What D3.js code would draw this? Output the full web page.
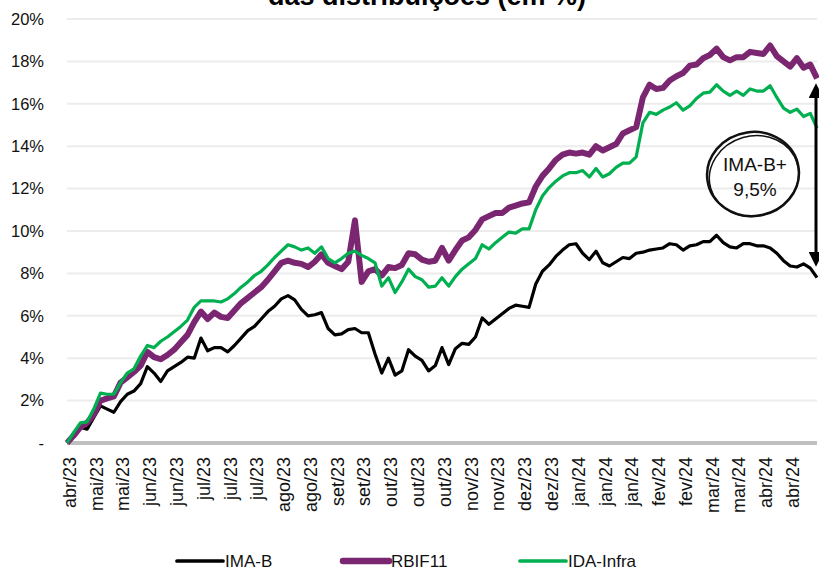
<!DOCTYPE html>
<html>
<head>
<meta charset="utf-8">
<script src="https://cdn.jsdelivr.net/npm/d3@7"></script>
<style>
  body { margin: 0; background: #fff; }
  svg { display: block; }
</style>
</head>
<body>
<div id="chart"></div>
<script>
// tick labels on the x axis (one every 4 data points)
var tickLabels = ["abr/23","mai/23","mai/23","jun/23","jun/23","jul/23","jul/23","jul/23",
  "ago/23","ago/23","set/23","set/23","out/23","out/23","out/23","nov/23","nov/23",
  "dez/23","dez/23","jan/24","jan/24","jan/24","fev/24","fev/24","mar/24","mar/24",
  "abr/24","abr/24"];

var yTicks = [0, 2, 4, 6, 8, 10, 12, 14, 16, 18, 20];

// accumulated return, %
var imab = [0,0.3,0.75,0.65,1.2,1.75,1.6,1.45,1.95,2.3,2.45,2.8,3.6,3.3,2.9,3.4,3.6,3.8,4.05,4.0,
  4.95,4.35,4.5,4.5,4.3,4.6,4.95,5.3,5.5,5.85,6.2,6.45,6.8,6.95,6.75,6.3,6.0,6.05,6.15,5.4,
  5.1,5.15,5.35,5.4,5.2,5.2,4.2,3.3,4.0,3.2,3.4,4.4,4.1,3.9,3.4,3.65,4.5,3.7,4.45,4.7,
  4.65,5.0,5.9,5.6,5.85,6.1,6.35,6.5,6.45,6.4,7.5,8.1,8.4,8.8,9.1,9.35,9.4,8.95,8.65,9.05,
  8.5,8.35,8.55,8.75,8.7,8.95,9.0,9.1,9.15,9.2,9.4,9.35,9.1,9.3,9.35,9.5,9.5,9.8,9.45,9.25,
  9.2,9.4,9.4,9.3,9.3,9.2,8.95,8.6,8.35,8.3,8.45,8.25,7.8];

var rbif11 = [0,0.35,0.75,0.95,1.35,2.0,2.1,2.2,2.85,3.1,3.35,3.65,4.3,4.05,3.95,4.15,4.4,4.75,5.1,5.7,
  6.2,5.85,6.15,5.95,5.9,6.25,6.6,6.85,7.1,7.35,7.7,8.1,8.5,8.6,8.5,8.45,8.3,8.55,8.9,8.5,
  8.35,8.2,8.55,10.5,7.6,8.1,8.2,7.9,8.3,8.25,8.4,8.95,8.9,8.65,8.55,8.6,9.2,8.6,9.1,9.55,
  9.7,10.05,10.55,10.7,10.85,10.85,11.1,11.2,11.3,11.35,12.1,12.6,12.95,13.35,13.6,13.7,13.65,13.7,13.6,14.0,
  13.8,13.95,14.1,14.6,14.75,14.9,16.3,16.9,16.7,16.75,17.1,17.3,17.45,17.8,17.85,18.15,18.3,18.6,18.2,18.05,
  18.2,18.2,18.45,18.4,18.35,18.75,18.25,18.0,17.75,18.15,17.7,17.85,17.2];

var idaInfra = [0,0.5,0.95,1.0,1.6,2.35,2.3,2.3,2.85,3.3,3.5,4.1,4.6,4.5,4.8,5.0,5.25,5.5,5.8,6.4,
  6.7,6.7,6.7,6.65,6.8,7.05,7.35,7.6,7.9,8.1,8.4,8.75,9.05,9.35,9.25,9.1,9.2,8.95,9.25,8.7,
  8.5,8.7,8.95,9.05,8.85,8.7,8.5,7.4,7.8,7.1,7.6,8.2,7.85,7.7,7.35,7.4,7.8,7.4,7.85,8.2,
  8.45,8.7,9.35,9.15,9.45,9.7,9.95,9.9,10.1,10.1,11.0,11.65,12.05,12.35,12.6,12.75,12.75,12.85,12.55,12.95,
  12.55,12.7,13.0,13.2,13.2,13.5,15.1,15.6,15.5,15.7,15.85,16.05,15.7,15.9,16.25,16.5,16.55,16.9,16.6,16.4,
  16.6,16.4,16.7,16.6,16.6,16.85,16.3,15.8,15.6,15.75,15.4,15.55,14.85];

var series = [
  {name: "IMA-B", values: imab, color: "#000000", width: 3.2},
  {name: "RBIF11", values: rbif11, color: "#7b2671", width: 6},
  {name: "IDA-Infra", values: idaInfra, color: "#00b050", width: 3.2}
];

var width = 819, height = 570;
var margin = {left: 67, right: 817, top: 19, bottom: 443};

var svg = d3.select("#chart").append("svg")
  .attr("width", width)
  .attr("height", height);

var x = d3.scaleLinear().domain([0, imab.length - 1]).range([margin.left, margin.right]);
var y = d3.scaleLinear().domain([0, 20]).range([margin.bottom, margin.top]);

// title, mostly cut off at the top
svg.append("text")
  .attr("x", 427)
  .attr("y", 5)
  .attr("text-anchor", "middle")
  .style("font-family", "Liberation Sans, Arial, sans-serif")
  .style("font-weight", "bold")
  .style("font-size", "27px")
  .text("das distribuições (em %)");

// grid lines
svg.append("g")
  .selectAll("line")
  .data(yTicks.filter(function(d) { return d > 0; }))
  .enter()
  .append("line")
    .attr("x1", margin.left)
    .attr("x2", margin.right)
    .attr("y1", function(d) { return y(d); })
    .attr("y2", function(d) { return y(d); })
    .attr("stroke", "#ececec")
    .attr("stroke-width", 2);

// y axis labels
var yAxis = svg.append("g")
  .attr("transform", "translate(44,0)")
  .call(d3.axisLeft(y).tickValues(yTicks).tickSize(0).tickPadding(0)
    .tickFormat(function(d) { return d === 0 ? "-" : d + "%"; }));
yAxis.select(".domain").remove();
yAxis.selectAll("text")
  .style("font-family", "Liberation Sans, Arial, sans-serif")
  .style("font-size", "16.5px")
  .attr("fill", "#111");

// zero line
svg.append("line")
  .attr("x1", margin.left)
  .attr("x2", margin.right)
  .attr("y1", y(0))
  .attr("y2", y(0))
  .attr("stroke", "#bfbfbf")
  .attr("stroke-width", 4);

// x axis labels
var tickIdx = tickLabels.map(function(d, i) { return i * 4; });
var xAxis = svg.append("g")
  .attr("transform", "translate(2," + (y(0) + 14) + ")")
  .call(d3.axisBottom(x).tickValues(tickIdx).tickSize(0).tickPadding(0)
    .tickFormat(function(d, i) { return tickLabels[i]; }));
xAxis.select(".domain").remove();
xAxis.selectAll("text")
  .attr("transform", "rotate(-90)")
  .attr("text-anchor", "end")
  .attr("dx", 0)
  .attr("dy", "0.35em")
  .attr("y", 0)
  .style("font-family", "Liberation Sans, Arial, sans-serif")
  .style("font-size", "18px")
  .attr("fill", "#111");

// lines
var line = d3.line()
  .x(function(d, i) { return x(i); })
  .y(function(d) { return y(d); });

svg.append("g")
  .selectAll("path")
  .data(series)
  .enter()
  .append("path")
    .attr("d", function(d) { return line(d.values); })
    .attr("fill", "none")
    .attr("stroke", function(d) { return d.color; })
    .attr("stroke-width", function(d) { return d.width; })
    .attr("stroke-linejoin", "round");

// double arrow for the gap
var last = imab.length - 1;
var defs = svg.append("defs");
defs.append("marker")
  .attr("id", "arrow")
  .attr("viewBox", "0 0 10 10")
  .attr("refX", 4)
  .attr("refY", 5)
  .attr("markerWidth", 5)
  .attr("markerHeight", 5)
  .attr("orient", "auto-start-reverse")
  .append("path")
    .attr("d", "M0,0 L10,5 L0,10 z")
    .attr("fill", "#000");

svg.append("line")
  .attr("x1", x(last) - 1)
  .attr("x2", x(last) - 1)
  .attr("y1", y(rbif11[last]) + 14)
  .attr("y2", y(imab[last]) - 20)
  .attr("stroke", "#000")
  .attr("stroke-width", 3)
  .attr("marker-start", "url(#arrow)")
  .attr("marker-end", "url(#arrow)");

// hand drawn circle with label
var note = svg.append("g").attr("transform", "translate(753,174)");
note.append("ellipse")
  .attr("rx", 46).attr("ry", 42)
  .attr("transform", "rotate(-8)")
  .attr("fill", "none").attr("stroke", "#111").attr("stroke-width", 2.5);
note.append("ellipse")
  .attr("rx", 45).attr("ry", 40)
  .attr("transform", "translate(1,2) rotate(-16)")
  .attr("fill", "none").attr("stroke", "#111").attr("stroke-width", 1.5);
note.selectAll("text")
  .data(["IMA-B+", "9,5%"])
  .enter()
  .append("text")
    .attr("x", 2)
    .attr("y", function(d, i) { return -3 + i * 25; })
    .attr("text-anchor", "middle")
    .style("font-family", "Liberation Sans, Arial, sans-serif")
    .style("font-size", "19px")
    .attr("fill", "#111")
    .text(function(d) { return d; });

// legend
var legendX = [177, 343, 520];
var legend = svg.append("g")
  .selectAll("g")
  .data(series)
  .enter()
  .append("g")
    .attr("transform", function(d, i) { return "translate(" + legendX[i] + ",561)"; });
legend.append("line")
  .attr("x1", 0).attr("x2", 46)
  .attr("stroke", function(d) { return d.color; })
  .attr("stroke-width", function(d) { return d.width + 0.5; })
  .attr("stroke-linecap", "round");
legend.append("text")
  .attr("x", 48)
  .attr("y", 6)
  .style("font-family", "Liberation Sans, Arial, sans-serif")
  .style("font-size", "17px")
  .attr("fill", "#111")
  .text(function(d) { return d.name; });
</script>
</body>
</html>
